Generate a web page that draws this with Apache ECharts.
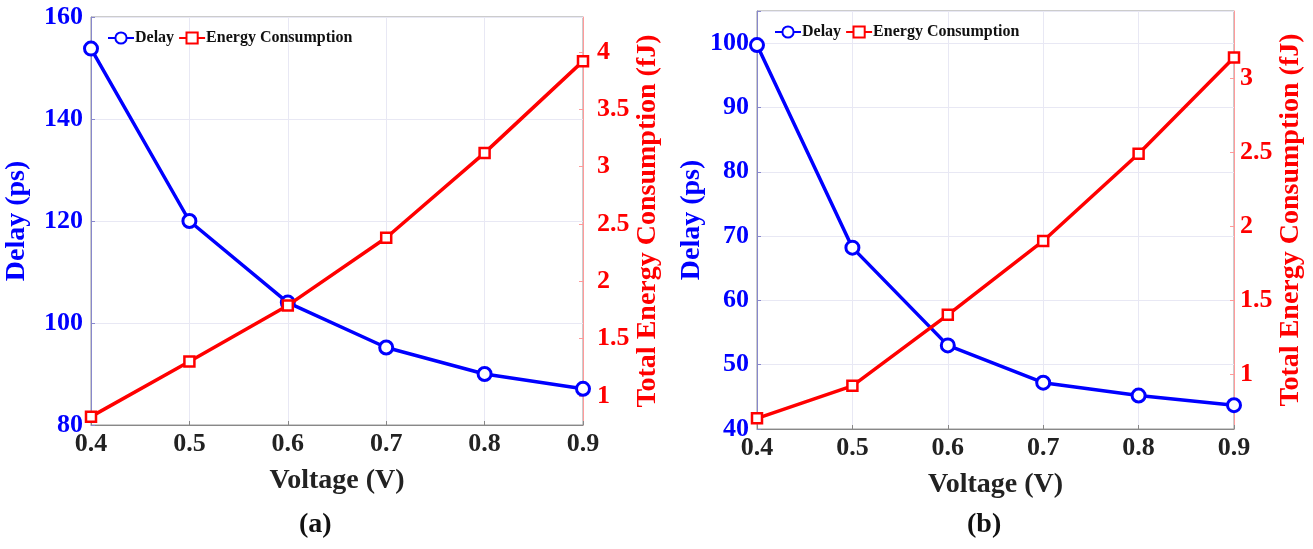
<!DOCTYPE html>
<html>
<head>
<meta charset="utf-8">
<script src="https://cdn.jsdelivr.net/npm/echarts@6/dist/echarts.min.js"></script>
<style>
  html, body { margin: 0; padding: 0; background: #fff; }
  #chart { width: 1313px; height: 549px; }
</style>
</head>
<body>
<div id="chart"></div>
<script>
// datos
const voltage = [0.4, 0.5, 0.6, 0.7, 0.8, 0.9];
const delayA = [153.8, 120.0, 104.0, 95.2, 90.0, 87.1];
const energyA = [0.82, 1.30, 1.79, 2.38, 3.12, 3.92];
const delayB = [99.7, 68.2, 53.0, 47.2, 45.2, 43.7];
const energyB = [0.70, 0.92, 1.40, 1.90, 2.49, 3.14];
const delayTicksB = [40, 50, 60, 70, 80, 90, 100];
const energyTicksA = [1, 1.5, 2, 2.5, 3, 3.5, 4];
const energyTicksB = [1, 1.5, 2, 2.5, 3];

const BLUE = '#0000ff';
const RED = '#ff0000';
const FONT = '"Liberation Serif", "Times New Roman", serif';

const pairs = (xs, ys) => xs.map((x, i) => [x, ys[i]]);

const xAxisCfg = (gridIndex) => ({
    type: 'value', gridIndex: gridIndex,
    min: 0.4, max: 0.9, interval: 0.1,
    name: 'Voltage (V)', nameLocation: 'middle', nameGap: 42,
    nameTextStyle: { color: '#222', fontFamily: FONT, fontWeight: 'bold', fontSize: 28 },
    axisLine: { lineStyle: { color: '#888', width: 1 } },
    axisTick: { inside: true, length: 4, lineStyle: { color: '#888' } },
    axisLabel: { color: '#222', fontFamily: FONT, fontWeight: 'bold', fontSize: 26, margin: 6,
        formatter: v => v.toFixed(1) },
    splitLine: { show: true, lineStyle: { color: '#e8e8f4', width: 1 } }
});

const delayAxis = (gridIndex, min, max, interval, gap, ticks) => ({
    type: 'value', gridIndex: gridIndex, position: 'left',
    min: min, max: max, interval: interval,
    name: 'Delay (ps)', nameLocation: 'middle', nameGap: gap, nameRotate: 90,
    nameTextStyle: { color: BLUE, fontFamily: FONT, fontWeight: 'bold', fontSize: 28 },
    axisLine: { show: true, lineStyle: { color: '#8888cc', width: 1 } },
    axisTick: { show: true, inside: true, length: 4, lineStyle: { color: '#8888cc' } },
    axisLabel: { color: BLUE, fontFamily: FONT, fontWeight: 'bold', fontSize: 26, margin: 8,
        customValues: ticks },
    splitLine: { show: true, lineStyle: { color: '#e8e8f4', width: 1 } }
});

const energyAxis = (gridIndex, min, max, gap, margin, ticks) => ({
    type: 'value', gridIndex: gridIndex, position: 'right',
    min: min, max: max,
    name: 'Total Energy Consumption (fJ)', nameLocation: 'middle', nameGap: gap, nameRotate: 90,
    nameTextStyle: { color: RED, fontFamily: FONT, fontWeight: 'bold', fontSize: 28 },
    axisLine: { show: true, lineStyle: { color: '#ff9a9a', width: 1 } },
    axisTick: { show: true, inside: true, length: 4, customValues: ticks, lineStyle: { color: '#ff9a9a' } },
    axisLabel: { color: RED, fontFamily: FONT, fontWeight: 'bold', fontSize: 26, margin: margin,
        customValues: ticks, formatter: v => String(v) },
    splitLine: { show: false }
});

const delaySeries = (idx, data) => ({
    name: 'Delay', type: 'line', xAxisIndex: idx, yAxisIndex: idx * 2,
    data: pairs(voltage, data),
    symbol: 'circle', symbolSize: 13,
    lineStyle: { color: BLUE, width: 3.5 },
    itemStyle: { color: '#fff', borderColor: BLUE, borderWidth: 3 },
    z: 3
});

const energySeries = (idx, data) => ({
    name: 'Energy Consumption', type: 'line', xAxisIndex: idx, yAxisIndex: idx * 2 + 1,
    data: pairs(voltage, data),
    symbol: 'rect', symbolSize: 10,
    lineStyle: { color: RED, width: 3.5 },
    itemStyle: { color: '#fff', borderColor: RED, borderWidth: 2.5 },
    z: 4
});

const legendCfg = (left, top) => ({
    left: left, top: top, itemGap: 4, itemWidth: 26, itemHeight: 14,
    data: ['Delay', 'Energy Consumption'],
    textStyle: { color: '#111', fontFamily: FONT, fontWeight: 'bold', fontSize: 16, padding: [0, 0, 0, -4] }
});

const chart = echarts.init(document.getElementById('chart'));
chart.setOption({
    animation: false,
    backgroundColor: '#fff',
    grid: [
        { left: 91, top: 17, width: 492, height: 408, show: true, borderColor: '#999', borderWidth: 1 },
        { left: 757, top: 11, width: 477, height: 418, show: true, borderColor: '#999', borderWidth: 1 }
    ],
    legend: [legendCfg(102, 25), legendCfg(769, 19)],
    xAxis: [xAxisCfg(0), xAxisCfg(1)],
    yAxis: [
        delayAxis(0, 80, 160, 20, 60, null),
        energyAxis(0, 0.747, 4.305, 44, 14, energyTicksA),
        delayAxis(1, 40, 105, 10, 46, delayTicksB),
        energyAxis(1, 0.628, 3.455, 37, 6, energyTicksB)
    ],
    series: [
        delaySeries(0, delayA),
        energySeries(0, energyA),
        delaySeries(1, delayB),
        energySeries(1, energyB)
    ],
    graphic: [
        { type: 'text', left: 299, top: 511,
          style: { text: '(a)', fill: '#111', font: 'bold 28px ' + FONT } },
        { type: 'text', left: 967, top: 511,
          style: { text: '(b)', fill: '#111', font: 'bold 28px ' + FONT } }
    ]
});
</script>
</body>
</html>
